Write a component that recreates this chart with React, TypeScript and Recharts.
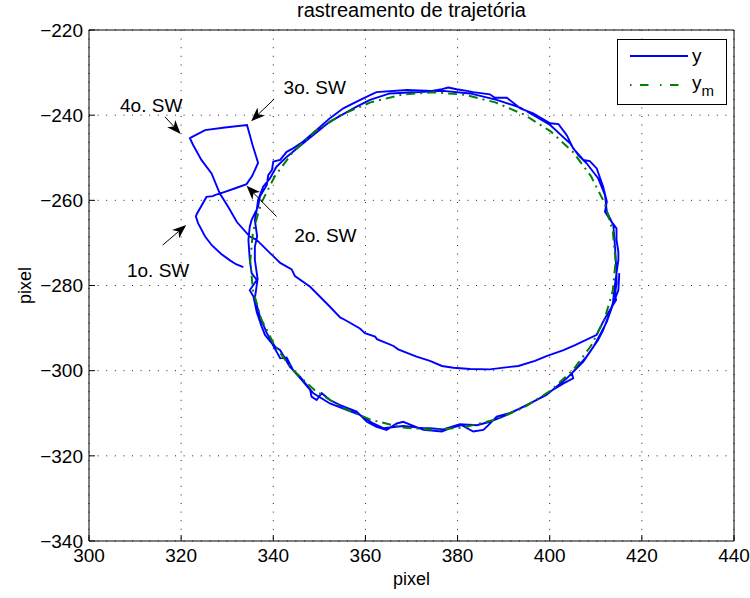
import React from "react";
import {
  ComposedChart,
  Line,
  XAxis,
  YAxis,
  CartesianGrid,
  Legend,
  ReferenceLine,
  ReferenceDot,
  Label,
} from "recharts";

const FONT = "'Liberation Sans', Arial, Helvetica, sans-serif";

const xTicks = [300, 320, 340, 360, 380, 400, 420, 440];
const yTicks = [-340, -320, -300, -280, -260, -240, -220];

// y : tracked trajectory (blue) as [x, y]
const yTrack: [number, number][] = [
  [333.5, -275.7], [331.9, -275.0], [330.6, -274.1], [328.7, -272.6], [326.7, -270.6],
  [325.2, -268.5], [323.7, -265.4], [323.2, -263.8], [323.4, -263.2], [325.5, -259.2],
  [326.9, -259.0], [327.3, -258.8], [329.5, -258.0], [331.9, -257.1], [334.2, -256.2],
  [335.4, -254.3], [336.7, -251.2], [335.5, -247.0], [334.3, -242.3], [329.5, -242.9],
  [325.2, -243.5], [322.4, -245.1], [321.9, -245.4], [322.6, -247.0], [324.4, -250.5],
  [326.6, -253.7], [328.4, -258.4], [330.2, -261.5], [332.1, -265.1], [334.9, -268.5],
  [336.4, -269.3], [339.3, -272.4], [340.0, -273.1], [341.5, -274.7], [344.0, -276.2],
  [344.7, -277.8], [348.0, -280.3], [352.3, -285.0], [354.5, -287.5], [355.6, -288.1],
  [358.8, -290.1], [359.9, -291.2], [362.1, -292.0], [362.5, -292.6], [366.1, -294.2],
  [367.1, -295.0], [371.1, -296.7], [374.0, -297.7], [376.6, -298.9], [379.1, -299.3],
  [382.7, -299.6], [387.0, -299.7], [391.4, -299.1], [393.2, -298.9], [396.8, -297.7],
  [399.3, -296.6], [403.0, -295.2], [405.5, -294.0], [410.2, -291.6],
  // first lap
  [410.5, -290.9], [411.6, -288.5], [412.4, -286.9], [413.5, -285.0], [414.4, -283.4],
  [414.2, -281.8], [414.5, -279.5], [414.5, -277.1], [414.9, -274.0], [414.9, -272.1],
  [414.5, -269.3], [414.5, -266.6], [413.4, -265.0], [412.0, -262.7], [412.4, -260.3],
  [411.6, -256.8], [410.2, -252.5], [408.7, -250.8], [407.3, -250.5], [405.1, -247.8],
  [403.7, -244.7], [401.9, -242.1], [400.1, -241.9], [396.4, -239.6], [393.6, -238.4],
  [390.7, -235.9], [388.1, -235.9], [387.0, -235.1], [383.4, -234.6], [382.0, -234.3],
  [379.8, -233.9], [378.0, -233.5], [376.6, -233.9], [374.4, -234.3], [369.0, -234.1],
  [362.4, -234.6], [361.0, -235.3], [358.1, -236.8], [355.2, -238.4], [352.3, -240.7],
  [349.4, -243.5], [346.5, -246.2], [344.3, -247.8], [342.9, -248.6], [341.5, -250.5],
  [340.0, -250.9], [339.7, -252.9], [338.9, -254.1], [338.6, -256.4], [337.1, -259.1],
  [336.7, -261.5], [335.3, -264.6], [334.9, -266.2], [334.6, -269.3], [334.9, -274.0],
  [335.3, -277.1], [336.4, -278.7], [334.9, -281.1], [335.7, -282.6], [336.4, -286.2],
  [337.5, -289.7], [338.2, -291.6], [339.7, -293.6], [341.5, -297.1], [342.9, -296.9],
  [344.3, -299.9], [346.2, -302.2], [348.0, -304.5], [348.3, -306.1], [349.4, -306.9],
  [350.5, -305.3], [352.3, -306.9], [354.5, -308.1], [358.1, -309.6], [359.2, -310.8],
  [360.3, -312.0], [362.4, -313.2], [364.6, -313.9], [366.8, -312.4], [368.2, -312.0],
  [370.0, -312.8], [372.6, -313.9], [376.6, -314.3], [378.4, -313.5], [380.9, -312.8],
  [383.4, -314.3], [385.6, -313.9], [386.7, -312.8], [388.5, -310.8], [391.4, -309.9],
  [394.3, -308.5], [397.2, -306.9], [400.1, -304.9], [403.0, -303.0], [405.1, -301.8],
  [404.8, -300.6], [408.0, -296.7], [410.5, -292.8], [411.6, -290.5], [412.7, -287.3],
  [413.7, -284.2], [414.2, -279.5], [414.5, -277.1],
  // second lap
  [414.2, -271.3], [413.8, -265.8], [412.4, -262.7], [412.0, -258.8], [410.5, -254.8],
  [408.0, -251.3], [406.2, -249.4], [404.4, -246.6], [400.1, -242.3], [393.6, -238.2],
  [388.5, -236.4], [382.7, -234.9], [376.9, -234.3], [365.3, -234.9], [361.0, -236.4],
  [358.1, -238.0], [352.3, -241.5], [346.5, -246.6], [342.9, -249.8], [340.7, -252.1],
  [339.3, -254.8], [337.8, -256.8], [336.7, -259.9], [336.4, -262.3], [336.0, -264.6],
  [336.5, -268.5], [336.0, -270.9], [336.0, -274.0], [336.6, -278.5], [336.0, -283.0],
  [337.1, -287.3], [338.6, -291.2], [340.4, -294.4], [341.5, -295.2], [343.6, -299.1],
  [345.8, -301.4], [348.7, -305.3], [352.3, -307.7], [355.9, -309.2], [358.8, -310.4],
  [361.7, -312.4], [363.9, -313.5], [368.2, -313.0], [372.6, -313.5], [374.0, -313.5],
  [376.9, -313.8], [380.5, -312.6], [384.2, -312.8], [387.0, -312.0], [390.7, -310.4],
  [395.7, -307.7], [399.3, -305.7], [403.7, -301.8], [407.3, -297.9], [409.5, -294.4],
  [410.9, -291.6], [412.4, -288.5], [413.8, -284.2], [414.9, -281.1], [415.1, -277.1],
];

// y_m : reference circle (green dash-dot)
const ymTrack: [number, number][] = [
  [414.3, -274.3], [413.7, -267.3], [411.9, -260.6], [409.0, -254.4], [405.1, -248.7],
  [400.2, -243.8], [394.5, -239.9], [388.2, -237.0], [381.5, -235.2], [374.7, -234.6],
  [367.8, -235.2], [361.1, -237.0], [354.8, -239.9], [349.1, -243.8], [344.2, -248.7],
  [340.3, -254.4], [337.4, -260.6], [335.6, -267.3], [335.0, -274.3], [335.6, -281.2],
  [337.4, -287.9], [340.3, -294.1], [344.2, -299.8], [349.1, -304.7], [354.8, -308.6],
  [361.1, -311.5], [367.8, -313.3], [374.7, -313.9], [381.5, -313.3], [388.2, -311.5],
  [394.5, -308.6], [400.2, -304.7], [405.1, -299.8], [409.0, -294.1], [411.9, -287.9],
  [413.7, -281.2], [414.3, -274.3],
];

// switch annotations
const swLabels = ["1o. SW", "2o. SW", "3o. SW", "4o. SW"];
const swTextAt: [number, number][] = [
  [315.0, -276.4], [351.3, -268.3], [349.0, -233.5], [313.5, -237.7],
];
const swArrowFrom: [number, number][] = [
  [316.0, -270.5], [340.7, -263.8], [340.2, -236.2], [316.5, -240.4],
];
const swArrowTo: [number, number][] = [
  [321.1, -265.8], [334.2, -256.6], [335.2, -241.4], [319.9, -244.4],
];

const yData = yTrack.map(([x, y]) => ({ x, y }));
const ymData = ymTrack.map(([x, y]) => ({ x, y }));

const minusFmt = (v: number) => (v < 0 ? `\u2212${-v}` : `${v}`);

const Arrow = (props: any) => {
  const { x1, y1, x2, y2 } = props;
  const dx = x2 - x1;
  const dy = y2 - y1;
  const len = Math.hypot(dx, dy) || 1;
  const ux = dx / len;
  const uy = dy / len;
  const px = -uy;
  const py = ux;
  const L = 14;
  const W = 5.5;
  const N = 10;
  const bx = x2 - ux * L;
  const by = y2 - uy * L;
  const nx = x2 - ux * N;
  const ny = y2 - uy * N;
  const head = `${x2},${y2} ${bx + px * W},${by + py * W} ${nx},${ny} ${bx - px * W},${by - py * W}`;
  return (
    <g>
      <line x1={x1} y1={y1} x2={nx} y2={ny} stroke="#000" strokeWidth={1} />
      <polygon points={head} fill="#000" />
    </g>
  );
};

const LegendBox = () => (
  <svg width={110} height={66} style={{ display: "block", fontFamily: FONT }}>
    <rect x={0.5} y={0.5} width={109} height={65} fill="#fff" stroke="#000" />
    <line x1={13} y1={17} x2={71} y2={17} stroke="#0000ff" strokeWidth={2} />
    <text x={75} y={23} fontSize={19} fill="#000">
      y
    </text>
    <line
      x1={13}
      y1={46}
      x2={72}
      y2={46}
      stroke="#008000"
      strokeWidth={2}
      strokeDasharray="1.5 8.5 8.5 11.5"
    />
    <text x={75} y={50} fontSize={19} fill="#000">
      y
      <tspan fontSize={15} dy={7}>
        m
      </tspan>
    </text>
  </svg>
);

const App = () => {
  return (
    <>
      <style>{"body{margin:0}"}</style>
      <ComposedChart
        width={750}
        height={598}
        margin={{ top: 29, right: 15, bottom: 8, left: 29 }}
        style={{ fontFamily: FONT, background: "#fff" }}
      >
        <CartesianGrid stroke="#222" strokeDasharray="1 7.6" />
        <XAxis
          dataKey="x"
          type="number"
          domain={[300, 440]}
          ticks={xTicks}
          interval={0}
          allowDataOverflow
          height={49}
          tickSize={-6}
          tickMargin={14}
          tickFormatter={minusFmt}
          stroke="#000"
          tick={{ fontSize: 19, fill: "#000" }}
        >
          <Label
            content={(p: any) => {
              const vb = p.viewBox || { x: 89, y: 541, width: 645, height: 49 };
              return (
                <text x={vb.x + vb.width / 2} y={vb.y + 44} textAnchor="middle" fontSize={18} fill="#000">
                  pixel
                </text>
              );
            }}
          />
        </XAxis>
        <XAxis
          xAxisId="top"
          orientation="top"
          type="number"
          domain={[300, 440]}
          ticks={xTicks}
          interval={0}
          allowDataOverflow
          height={1}
          tickSize={-6}
          tick={false}
          stroke="#000"
        >
          <Label
            content={(p: any) => {
              const vb = p.viewBox || { x: 89, y: 29, width: 645, height: 1 };
              return (
                <text
                  x={vb.x + vb.width / 2}
                  y={vb.y + vb.height - 13}
                  textAnchor="middle"
                  fontSize={20}
                  fill="#000"
                >
                  rastreamento de trajetória
                </text>
              );
            }}
          />
        </XAxis>
        <YAxis
          type="number"
          domain={[-340, -220]}
          ticks={yTicks}
          interval={0}
          allowDataOverflow
          width={60}
          tickSize={-6}
          tickMargin={12}
          tickFormatter={minusFmt}
          stroke="#000"
          tick={{ fontSize: 19, fill: "#000" }}
        >
          <Label
            content={(p: any) => {
              const vb = p.viewBox || { x: 29, y: 30, width: 60, height: 511 };
              const cx = vb.x + 2;
              const cy = vb.y + vb.height / 2;
              return (
                <text
                  x={cx}
                  y={cy}
                  transform={`rotate(-90 ${cx} ${cy})`}
                  textAnchor="middle"
                  fontSize={18}
                  fill="#000"
                >
                  pixel
                </text>
              );
            }}
          />
        </YAxis>
        <YAxis
          yAxisId="right"
          orientation="right"
          type="number"
          domain={[-340, -220]}
          ticks={yTicks}
          interval={0}
          allowDataOverflow
          width={1}
          tickSize={-6}
          tick={false}
          stroke="#000"
        />

        <Line
          data={yData}
          dataKey="y"
          type="linear"
          stroke="#0000ff"
          strokeWidth={1.9}
          dot={false}
          activeDot={false}
          isAnimationActive={false}
        />
        <Line
          data={ymData}
          dataKey="y"
          type="linear"
          stroke="#008000"
          strokeWidth={2}
          strokeDasharray="9 5 2 5"
          dot={false}
          activeDot={false}
          isAnimationActive={false}
        />

        {swLabels.map((s, i) => (
          <ReferenceLine
            key={`a${i}`}
            segment={[
              { x: swArrowFrom[i][0], y: swArrowFrom[i][1] },
              { x: swArrowTo[i][0], y: swArrowTo[i][1] },
            ]}
            ifOverflow="visible"
            shape={Arrow}
          />
        ))}
        {swLabels.map((s, i) => (
          <ReferenceDot
            key={`t${i}`}
            x={swTextAt[i][0]}
            y={swTextAt[i][1]}
            r={1}
            ifOverflow="visible"
            shape={(p: any) => (
              <text
                x={p.cx}
                y={p.cy}
                textAnchor="middle"
                dominantBaseline="central"
                fontSize={19}
                fill="#000"
              >
                {s}
              </text>
            )}
          />
        ))}

        <Legend
          layout="vertical"
          align="center"
          verticalAlign="middle"
          content={<LegendBox />}
          wrapperStyle={{ left: 617, top: 39, width: 110, height: 66 }}
        />
      </ComposedChart>
    </>
  );
};

export default App;
